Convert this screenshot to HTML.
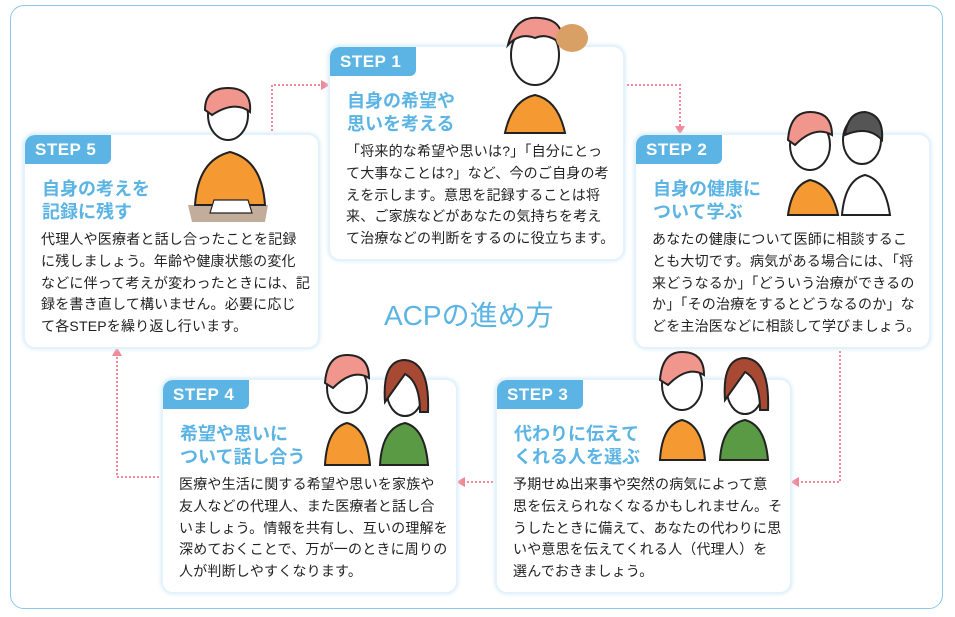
<!DOCTYPE html>
<html><head><meta charset="utf-8"><style>
body{margin:0;width:955px;height:617px;background:#fff;position:relative;overflow:hidden;font-family:"Liberation Sans","Noto Sans CJK JP",sans-serif;}
.frame{position:absolute;left:10px;top:5px;width:933px;height:604px;border:1.5px solid #8cc8ea;border-radius:14px;box-sizing:border-box;}
.card{position:absolute;width:293px;height:212px;background:#fff;border-radius:10px;box-shadow:0 0 0 2px #e3f2fb,0 0 4px 2px #d6ecf8;overflow:visible;}
.tab{position:absolute;left:0;top:0;width:86px;height:29px;background:#5bb4e3;border-radius:10px 0 6px 0;color:#fff;font-weight:bold;font-size:17px;line-height:29px;text-indent:10px;letter-spacing:0.5px;}
.ttl{position:absolute;left:17px;top:43px;color:#5bb4e3;font-weight:bold;font-size:18px;line-height:23px;white-space:nowrap;}
.txt{position:absolute;left:16px;top:94px;color:#222;font-size:14px;line-height:21.8px;white-space:nowrap;letter-spacing:0.2px;}
.center{position:absolute;left:384px;top:294px;color:#5bb4e3;font-size:28px;white-space:nowrap;}
svg.ov{position:absolute;left:0;top:0;}
</style></head><body>
<div class="frame"></div>
<svg class="ov" width="955" height="617">
<g stroke="#f08a98" stroke-width="2" stroke-dasharray="2 2" fill="none">
<polyline points="272,135 272,85 322,85"/>
<polyline points="623,85 680,85 680,127"/>
<polyline points="840,347 840,482 798,482"/>
<polyline points="497,482 464,482"/>
<polyline points="163,477 117,477 117,355"/>
</g>
<g fill="#f08a98">
<polygon points="330,85 321,80 321,90"/>
<polygon points="680,135 675,126 685,126"/>
<polygon points="790,482 799,477 799,487"/>
<polygon points="456,482 465,477 465,487"/>
<polygon points="117,347 112,356 122,356"/>
</g>
</svg>
<div class="center">ACPの進め方</div>

<div class="card" style="left:330px;top:47px"><div class="tab">STEP 1</div>
<div class="ttl">自身の希望や<br>思いを考える</div>
<div class="txt">「将来的な希望や思いは?」「自分にとっ<br>て大事なことは?」など、今のご自身の考<br>えを示します。意思を記録することは将<br>来、ご家族などがあなたの気持ちを考え<br>て治療などの判断をするのに役立ちます。</div></div>

<div class="card" style="left:636px;top:135px"><div class="tab">STEP 2</div>
<div class="ttl">自身の健康に<br>ついて学ぶ</div>
<div class="txt">あなたの健康について医師に相談するこ<br>とも大切です。病気がある場合には、「将<br>来どうなるか」「どういう治療ができるの<br>か」「その治療をするとどうなるのか」な<br>どを主治医などに相談して学びましょう。</div></div>

<div class="card" style="left:497px;top:380px"><div class="tab">STEP 3</div>
<div class="ttl">代わりに伝えて<br>くれる人を選ぶ</div>
<div class="txt">予期せぬ出来事や突然の病気によって意<br>思を伝えられなくなるかもしれません。そ<br>うしたときに備えて、あなたの代わりに思<br>いや意思を伝えてくれる人（代理人）を<br>選んでおきましょう。</div></div>

<div class="card" style="left:163px;top:380px"><div class="tab">STEP 4</div>
<div class="ttl">希望や思いに<br>ついて話し合う</div>
<div class="txt">医療や生活に関する希望や思いを家族や<br>友人などの代理人、また医療者と話し合<br>いましょう。情報を共有し、互いの理解を<br>深めておくことで、万が一のときに周りの<br>人が判断しやすくなります。</div></div>

<div class="card" style="left:25px;top:135px"><div class="tab">STEP 5</div>
<div class="ttl">自身の考えを<br>記録に残す</div>
<div class="txt">代理人や医療者と話し合ったことを記録<br>に残しましょう。年齢や健康状態の変化<br>などに伴って考えが変わったときには、記<br>録を書き直して構いません。必要に応じ<br>て各STEPを繰り返し行います。</div></div>

<svg class="ov" width="955" height="617">
<g stroke="#222" stroke-width="2">
<path d="M505,133 Q512,100 535,95 Q558,100 565,133 Z" fill="#f59a33"/>
<ellipse cx="535" cy="55" rx="24" ry="30" fill="#fff"/>
<path d="M508,45 Q515,15 540,18 Q565,20 562,45 Q548,32 535,38 Q520,32 508,45Z" fill="#f1968c"/>
<ellipse cx="572" cy="38" rx="16" ry="14" fill="#d9a066" stroke="none"/>
<path d="M788,215 Q792,185 810,180 Q832,185 838,215 Z" fill="#f59a33"/>
<ellipse cx="810" cy="145" rx="20" ry="25" fill="#fff"/>
<path d="M788,140 Q790,112 810,112 Q832,112 832,135 Q815,125 795,145Z" fill="#f1968c"/>
<path d="M842,215 Q845,180 865,175 Q885,180 890,215 Z" fill="#fff"/>
<ellipse cx="862" cy="140" rx="19" ry="24" fill="#fff"/>
<path d="M845,135 Q848,112 865,112 Q884,115 882,140 Q868,125 845,135Z" fill="#555"/>
<path d="M660,460 Q662,425 682,420 Q702,425 705,460 Z" fill="#f59a33"/>
<ellipse cx="682" cy="385" rx="20" ry="25" fill="#fff"/>
<path d="M660,380 Q662,352 682,352 Q704,352 704,375 Q688,365 668,385Z" fill="#f1968c"/>
<path d="M720,460 Q722,425 745,420 Q765,425 768,460 Z" fill="#5a9a45"/>
<ellipse cx="745" cy="390" rx="18" ry="24" fill="#fff"/>
<path d="M725,400 Q722,358 745,358 Q770,360 768,410 L760,410 Q760,380 745,372Z" fill="#a84a33"/>
<path d="M325,465 Q327,428 347,423 Q367,428 370,465 Z" fill="#f59a33"/>
<ellipse cx="347" cy="388" rx="20" ry="25" fill="#fff"/>
<path d="M325,383 Q327,355 347,355 Q369,355 369,378 Q353,368 333,388Z" fill="#f1968c"/>
<path d="M380,465 Q382,428 405,423 Q425,428 428,465 Z" fill="#5a9a45"/>
<ellipse cx="405" cy="392" rx="18" ry="24" fill="#fff"/>
<path d="M385,402 Q382,360 405,360 Q430,362 428,412 L420,412 Q420,382 405,374Z" fill="#a84a33"/>
<path d="M188,205 L268,205 L265,222 L192,222 Z" fill="#c2ad9b" stroke="none"/>
<path d="M195,205 Q198,160 230,152 Q262,160 265,205 Z" fill="#f59a33"/>
<ellipse cx="228" cy="115" rx="20" ry="25" fill="#fff"/>
<path d="M205,110 Q205,88 228,88 Q252,88 250,112 Q235,100 212,115Z" fill="#f1968c"/>
<path d="M210,213 L252,213 L248,200 L214,200Z" fill="#fff" stroke-width="1.2"/>
</g>
</svg>
</body></html>
